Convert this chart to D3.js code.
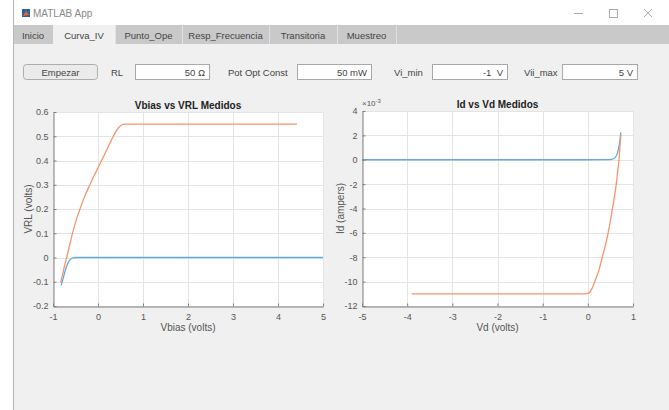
<!DOCTYPE html>
<html>
<head>
<meta charset="utf-8">
<script src="https://cdn.jsdelivr.net/npm/d3@7"></script>
<style>
    body { margin: 0; background: #ffffff; font-family: "Liberation Sans", Arial, sans-serif; }
    svg text { font-family: "Liberation Sans", Arial, sans-serif; }
</style>
</head>
<body>
<svg id="app" width="669" height="410"></svg>
<script>
// tabs and control row
const tabNames = ["Inicio", "Curva_IV", "Punto_Ope", "Resp_Frecuencia", "Transitoria", "Muestreo"];
const tabEdges = [13, 53, 115, 182, 269, 337, 396];
const controlLabels = ["RL", "Pot Opt Const", "Vi_min", "Vii_max"];
const controlValues = ["50 \u03A9", "50 mW", "-1  V", "5 V"];

// Vbias vs VRL
const vbiasTicks = [-1, 0, 1, 2, 3, 4, 5];
const vrlTicks = [0.6, 0.5, 0.4, 0.3, 0.2, 0.1, 0, -0.1, -0.2];
const vrlBlueX = [-0.82, -0.78, -0.74, -0.7, -0.66, -0.62, -0.58, -0.54, -0.5, 1, 2, 3, 4, 5];
const vrlBlueY = [-0.115, -0.09, -0.062, -0.038, -0.02, -0.009, -0.003, -0.001, 0, 0, 0, 0, 0, 0];
const vrlOrangeX = [-0.83, -0.75, -0.67, -0.6, -0.5, -0.4, -0.3, -0.2, -0.1, 0, 0.1, 0.2, 0.3, 0.4, 0.48, 0.56, 0.65, 1, 2, 3, 4, 4.42];
const vrlOrangeY = [-0.105, -0.04, 0.02, 0.075, 0.145, 0.2, 0.25, 0.292, 0.332, 0.37, 0.408, 0.446, 0.485, 0.52, 0.54, 0.549, 0.55, 0.55, 0.55, 0.55, 0.55, 0.55];

// Id vs Vd (x10^-3)
const vdTicks = [-5, -4, -3, -2, -1, 0, 1];
const idTicks = [4, 2, 0, -2, -4, -6, -8, -10, -12];
const idBlueX = [-5, -4, -3, -2, -1, 0, 0.45, 0.52, 0.57, 0.61, 0.64, 0.67, 0.69, 0.71, 0.73];
const idBlueY = [0, 0, 0, 0, 0, 0, 0.005, 0.03, 0.08, 0.2, 0.4, 0.75, 1.1, 1.6, 2.25];
const idOrangeX = [-3.9, -3, -2, -1, -0.05, 0, 0.05, 0.1, 0.155, 0.25, 0.32, 0.39, 0.45, 0.5, 0.545, 0.59, 0.63, 0.66, 0.69, 0.71, 0.73];
const idOrangeY = [-11, -11, -11, -11, -11, -10.97, -10.85, -10.5, -10, -9, -8, -7, -6, -5, -4, -3, -2, -1, 0, 1, 2.05];

const svg = d3.select("#app");

// window frame
svg.append("rect").attr("x", 13).attr("y", 44).attr("width", 656).attr("height", 366).attr("fill", "#f0f0f0");
svg.append("rect").attr("x", 13).attr("y", 25).attr("width", 656).attr("height", 19).attr("fill", "#c9c9c9");
svg.append("line").attr("x1", 13.5).attr("x2", 13.5).attr("y1", 0).attr("y2", 410).attr("stroke", "#b4b4b4");

// title bar
const icon = svg.append("g").attr("transform", "translate(22,9)");
icon.append("rect").attr("width", 8).attr("height", 8).attr("fill", "#2f5f9e");
icon.append("path").attr("d", "M1,7 L4,2 L7,6 Z").attr("fill", "#e86a1c");
svg.append("text").attr("x", 33).attr("y", 17).attr("font-size", 10).attr("fill", "#888").text("MATLAB App");
svg.append("line").attr("x1", 574).attr("x2", 583).attr("y1", 13.5).attr("y2", 13.5).attr("stroke", "#aaa");
svg.append("rect").attr("x", 609.5).attr("y", 9.5).attr("width", 8).attr("height", 8).attr("fill", "none").attr("stroke", "#aaa");
svg.append("path").attr("d", "M644,9 L652,17 M652,9 L644,17").attr("stroke", "#aaa");

// tabs
tabNames.forEach((name, i) => {
    const x0 = tabEdges[i], x1 = tabEdges[i + 1];
    if (i === 1) {
        svg.append("rect").attr("x", x0).attr("y", 25).attr("width", x1 - x0).attr("height", 19).attr("fill", "#f0f0f0");
    }
    if (i > 0) {
        svg.append("line").attr("x1", x1 + 0.5).attr("x2", x1 + 0.5).attr("y1", 25).attr("y2", 44).attr("stroke", "#e2e2e2");
    }
    svg.append("text")
        .attr("x", (x0 + x1) / 2).attr("y", 38.5)
        .attr("text-anchor", "middle").attr("font-size", 9.5).attr("fill", "#444")
        .text(name);
});

// controls row
svg.append("rect").attr("x", 23.5).attr("y", 64.5).attr("width", 74).attr("height", 15).attr("rx", 3)
    .attr("fill", "#ebebeb").attr("stroke", "#adadad");
svg.append("text").attr("x", 60.5).attr("y", 75.5).attr("text-anchor", "middle")
    .attr("font-size", 9.5).attr("fill", "#444").text("Empezar");

const labelX = [111, 228, 394, 524];
const fieldX = [[135, 209], [297, 371], [432, 507], [562, 637]];
controlLabels.forEach((lab, i) => {
    svg.append("text").attr("x", labelX[i]).attr("y", 75.5).attr("font-size", 9.5).attr("fill", "#444").text(lab);
    svg.append("rect").attr("x", fieldX[i][0] + 0.5).attr("y", 64.5)
        .attr("width", fieldX[i][1] - fieldX[i][0]).attr("height", 15)
        .attr("fill", "#ffffff").attr("stroke", "#a8a8a8");
    svg.append("text").attr("x", fieldX[i][1] - 4).attr("y", 75.5).attr("text-anchor", "end")
        .attr("font-size", 9.5).attr("fill", "#444").style("white-space", "pre").text(controlValues[i]);
});

function zip(xs, ys) { return xs.map((x, i) => ({ x: x, y: ys[i] })); }

function createGraph(cfg) {
    const x = d3.scaleLinear().domain(cfg.xDomain).range([cfg.left, cfg.right]);
    const y = d3.scaleLinear().domain(cfg.yDomain).range([cfg.bottom, cfg.top]);
    const g = svg.append("g");

    g.append("rect").attr("x", cfg.left).attr("y", cfg.top)
        .attr("width", cfg.right - cfg.left).attr("height", cfg.bottom - cfg.top).attr("fill", "#fff");

    // grid
    g.selectAll(".vgrid").data(cfg.xTicks).enter().append("line")
        .attr("x1", d => Math.round(x(d)) + 0.5).attr("x2", d => Math.round(x(d)) + 0.5)
        .attr("y1", cfg.top).attr("y2", cfg.bottom).attr("stroke", "#e4e4e4");
    g.selectAll(".hgrid").data(cfg.yTicks).enter().append("line")
        .attr("y1", d => Math.round(y(d)) + 0.5).attr("y2", d => Math.round(y(d)) + 0.5)
        .attr("x1", cfg.left).attr("x2", cfg.right).attr("stroke", "#e4e4e4");

    // lines
    const line = d3.line().x(d => x(d.x)).y(d => y(d.y)).curve(d3.curveMonotoneX);
    cfg.series.forEach(s => {
        g.append("path").datum(s.data).attr("d", line)
            .attr("fill", "none").attr("stroke", s.color).attr("stroke-width", 1.3);
    });

    // axes, ticks pointing inward like matlab
    const xAxis = g.append("g").attr("transform", `translate(0,${cfg.bottom + 0.5})`)
        .call(d3.axisBottom(x).tickValues(cfg.xTicks).tickSizeInner(-3).tickSizeOuter(0).tickPadding(7)
            .tickFormat(d => String(d)));
    const yAxis = g.append("g").attr("transform", `translate(${cfg.left + 0.5},0)`)
        .call(d3.axisLeft(y).tickValues(cfg.yTicks).tickSizeInner(-3).tickSizeOuter(0).tickPadding(5)
            .tickFormat(d => String(d)));
    [xAxis, yAxis].forEach(a => {
        a.select(".domain").attr("stroke", "#808080");
        a.selectAll(".tick line").attr("stroke", "#808080");
        a.selectAll(".tick text").attr("fill", "#555").attr("font-size", 9)
            .attr("font-family", "Liberation Sans, Arial, sans-serif");
    });

    // title and labels
    const cx = (cfg.left + cfg.right) / 2;
    g.append("text").attr("x", cx).attr("y", cfg.top - 3.5).attr("text-anchor", "middle")
        .attr("font-size", 10).attr("font-weight", "bold").attr("fill", "#222").text(cfg.title);
    g.append("text").attr("x", cx).attr("y", cfg.bottom + 25).attr("text-anchor", "middle")
        .attr("font-size", 10).attr("fill", "#555").text(cfg.xLabel);
    g.append("text")
        .attr("transform", `translate(${cfg.yLabelX},${(cfg.top + cfg.bottom) / 2}) rotate(-90)`)
        .attr("text-anchor", "middle").attr("font-size", 10).attr("fill", "#555").text(cfg.yLabel);

    if (cfg.exponent) {
        const t = g.append("text").attr("x", cfg.left).attr("y", cfg.top - 5).attr("font-size", 8).attr("fill", "#555");
        t.append("tspan").text("\u00D710");
        t.append("tspan").attr("dy", -3).attr("font-size", 6).text(cfg.exponent);
    }
}

createGraph({
    left: 53, right: 323, top: 112, bottom: 306,
    xDomain: [-1, 5], yDomain: [-0.2, 0.6],
    xTicks: vbiasTicks, yTicks: vrlTicks,
    title: "Vbias vs VRL Medidos", xLabel: "Vbias (volts)", yLabel: "VRL (volts)", yLabelX: 32,
    series: [
        { data: zip(vrlBlueX, vrlBlueY), color: "#62aade" },
        { data: zip(vrlOrangeX, vrlOrangeY), color: "#f2966c" }
    ]
});

createGraph({
    left: 362, right: 633, top: 111, bottom: 306,
    xDomain: [-5, 1], yDomain: [-12, 4],
    xTicks: vdTicks, yTicks: idTicks,
    title: "Id vs Vd Medidos", xLabel: "Vd (volts)", yLabel: "Id (ampers)", yLabelX: 344,
    exponent: "-3",
    series: [
        { data: zip(idBlueX, idBlueY), color: "#62aade" },
        { data: zip(idOrangeX, idOrangeY), color: "#f2966c" }
    ]
});
</script>
</body>
</html>
